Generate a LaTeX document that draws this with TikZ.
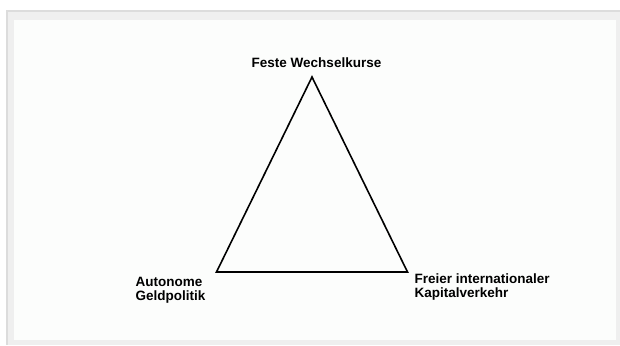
\documentclass[tikz,border=0pt]{standalone}
\usepackage{fontspec}
\setmainfont{Liberation Sans}
\definecolor{framegray}{HTML}{EFEFEF}
\definecolor{edgegray}{HTML}{DCDCDC}
\definecolor{paper}{HTML}{FCFDFC}
\begin{document}
\begin{tikzpicture}[x=1pt,y=-1pt,
  lbl/.style={font=\fontsize{13.5}{14}\selectfont\bfseries, inner sep=0pt},
  edge/.style={line width=1.6pt, line join=miter}]
\useasboundingbox (0,0) rectangle (620,345);
\fill[white] (0,0) rectangle (620,345);
\fill[framegray] (6,10) rectangle (620,345);
\fill[edgegray] (6,10) rectangle (620,12);
\fill[edgegray] (6,10) rectangle (8,345);
\fill[paper] (14,20) rectangle (616,340);
% vertices
\coordinate (top) at (312,77);
\coordinate (bl) at (216.5,272);
\coordinate (br) at (407.5,272);
\draw[edge] (top) -- (bl) -- (br) -- cycle;
% labels
\node[lbl] (fw) at (316.5,62.5) {Feste Wechselkurse};
\node[lbl, anchor=north west, align=left] (ag) at (135.5,277.5) {Autonome\\Geldpolitik};
\node[lbl, anchor=north west, align=left] (fk) at (414.5,274) {Freier internationaler\\Kapitalverkehr};
\end{tikzpicture}
\end{document}
